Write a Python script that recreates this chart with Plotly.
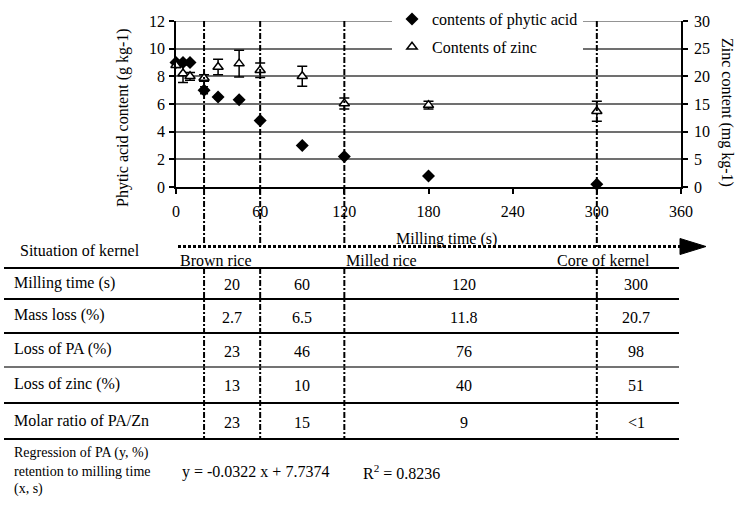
import plotly.graph_objects as go

# ---------------- data ----------------
milling_time = [0, 5, 10, 20, 30, 45, 60, 90, 120, 180, 300]
phytic_acid = [9.0, 9.0, 9.0, 7.0, 6.5, 6.3, 4.8, 3.0, 2.2, 0.8, 0.2]
phytic_err = [0.1, 0.15, 0.1, 0.25, 0.12, 0.1, 0.05, 0.0, 0.0, 0.0, 0.0]
zinc = [22.0, 20.5, 20.0, 19.7, 21.7, 22.3, 21.1, 20.0, 15.1, 14.8, 13.7]
zinc_err = [0.4, 1.6, 0.7, 0.6, 1.4, 2.4, 1.3, 1.8, 1.0, 0.7, 1.8]

x_ticks = [0, 60, 120, 180, 240, 300, 360]
pa_top = 12
stage_times = [20, 60, 120, 300]
stage_names = ["Brown rice", "Milled rice", "Core of kernel"]

row_labels = ["Milling time (s)", "Mass loss (%)", "Loss of PA (%)",
              "Loss of zinc (%)", "Molar ratio of PA/Zn"]
col_20 = ["20", "2.7", "23", "13", "23"]
col_60 = ["60", "6.5", "46", "10", "15"]
col_120 = ["120", "11.8", "76", "40", "9"]
col_300 = ["300", "20.7", "98", "51", "<1"]
regression_label = ["Regression of PA (y, %)", "retention to milling time", "(x, s)"]
regression_eq = "y = -0.0322 x + 7.7374"
regression_r2 = "R<sup>2</sup> = 0.8236"

# ---------------- layout geometry ----------------
W, H = 744, 506
L, R, T, B = 176, 63, 21, 319
PW, PH = W - L - R, H - T - B
XMAX = 360
FONT = "Liberation Serif, Times New Roman, serif"


def px(xp):
    return (xp - L) / PW


def py(yp):
    return 1 - (yp - T) / PH


def tx(t):
    return t / XMAX


fig = go.Figure()
fig.add_trace(go.Scatter(
    x=milling_time, y=phytic_acid, mode="markers", name="contents of phytic acid",
    legendgroup="pa", cliponaxis=False,
    marker=dict(symbol="diamond", size=10, color="black"),
    error_y=dict(type="data", array=phytic_err, color="black", thickness=1.5, width=4),
))
fig.add_trace(go.Scatter(
    x=milling_time, y=zinc, mode="markers", name="Contents of zinc", yaxis="y2",
    legendgroup="zn", cliponaxis=False,
    marker=dict(symbol="triangle-up", size=9, color="white", line=dict(color="black", width=1.5)),
    error_y=dict(type="data", array=zinc_err, color="black", thickness=1.5, width=5),
))

shapes = []
# top gridline (at the range end, not drawn by plotly)
shapes.append(dict(type="line", xref="paper", yref="y", x0=0, x1=1, y0=pa_top, y1=pa_top,
                   line=dict(color="#707070", width=1.5), layer="below"))
# vertical stage lines
for t in stage_times:
    for y0, y1 in [(T, 247), (268, 440)]:
        shapes.append(dict(type="line", xref="paper", yref="paper",
                           x0=tx(t), x1=tx(t), y0=py(y0), y1=py(y1),
                           line=dict(color="black", width=2, dash="6px,2px,2px,2px"), layer="above"))
# dotted arrow
shapes.append(dict(type="line", xref="paper", yref="paper", x0=px(178), x1=px(682),
                   y0=py(246.5), y1=py(246.5), line=dict(color="black", width=3, dash="3px,2px")))
shapes.append(dict(type="path", xref="paper", yref="paper",
                   path=f"M {px(680)},{py(238.5)} L {px(706)},{py(246.5)} L {px(680)},{py(254.5)} Z",
                   fillcolor="black", line=dict(color="black", width=1)))
# table rules
rule_y = [268, 299, 333, 367, 403, 439]
for i, yv in enumerate(rule_y):
    shapes.append(dict(type="line", xref="paper", yref="paper", x0=px(4), x1=px(679),
                       y0=py(yv), y1=py(yv),
                       line=dict(color="#444" if i == 3 else "black", width=1.6 if i == 3 else 2.2)))

ann = []


def text(x, y, s, size=16, xanchor="left", angle=0):
    ann.append(dict(x=x, y=y, xref="paper", yref="paper", text=s, showarrow=False,
                    xanchor=xanchor, yanchor="middle", textangle=angle,
                    font=dict(family=FONT, size=size, color="black")))


# axis titles
text(px(123), py(118), "Phytic acid content (g kg-1)", xanchor="center", angle=-90)
text(px(727), py(112), "Zinc content (mg kg-1)", xanchor="center", angle=90)
text(px(446), py(239), "Milling time (s)", xanchor="center")
# situation row
text(px(18), py(251), "Situation of kernel")
text(px(178), py(260), stage_names[0])
text(px(344), py(260), stage_names[1])
text(px(555), py(260), stage_names[2])
# table body
row_mid = [(rule_y[i] + rule_y[i + 1]) / 2 for i in range(5)]
col_centers = [40, 90, 205, 328]
for i, lab in enumerate(row_labels):
    text(px(12), py(row_mid[i] - 1), lab)
    for c, col in zip(col_centers, [col_20, col_60, col_120, col_300]):
        text(tx(c), py(row_mid[i] + 1), col[i], xanchor="center")
# regression
for k, s in enumerate(regression_label):
    text(px(12), py(453 + 18 * k), s, size=14)
text(px(180), py(472), regression_eq)
text(px(361), py(472), regression_r2)

fig.update_layout(
    width=W, height=H, margin=dict(l=L, r=R, t=T, b=B, autoexpand=False),
    paper_bgcolor="white", plot_bgcolor="white",
    font=dict(family=FONT, size=16, color="black"),
    shapes=shapes, annotations=ann,
    showlegend=True,
    legend=dict(x=px(392), y=py(2), xanchor="left", yanchor="top", bgcolor="white",
                font=dict(family=FONT, size=16), tracegroupgap=4, borderwidth=0,
                itemwidth=30),
    xaxis=dict(range=[0, XMAX], tickvals=x_ticks, showgrid=False, zeroline=False,
               showline=True, linecolor="black", linewidth=1.5, ticks="outside",
               ticklen=5, tickcolor="black", tickwidth=1.5, ticklabelstandoff=4),
    yaxis=dict(range=[0, pa_top], dtick=2, showgrid=True, gridcolor="#707070", gridwidth=1.5,
               zeroline=False, showline=True, linecolor="black", linewidth=1.5,
               ticks="outside", ticklen=5, tickcolor="black", tickwidth=1.5, ticklabelstandoff=1),
    yaxis2=dict(range=[0, 30], dtick=5, overlaying="y", side="right", showgrid=False,
                zeroline=False, showline=True, linecolor="black", linewidth=1.5,
                ticks="outside", ticklen=5, tickcolor="black", tickwidth=1.5, ticklabelstandoff=3),
)

fig.write_html("out.html", config={"displayModeBar": False},
               post_script="document.body.style.margin='0';")
